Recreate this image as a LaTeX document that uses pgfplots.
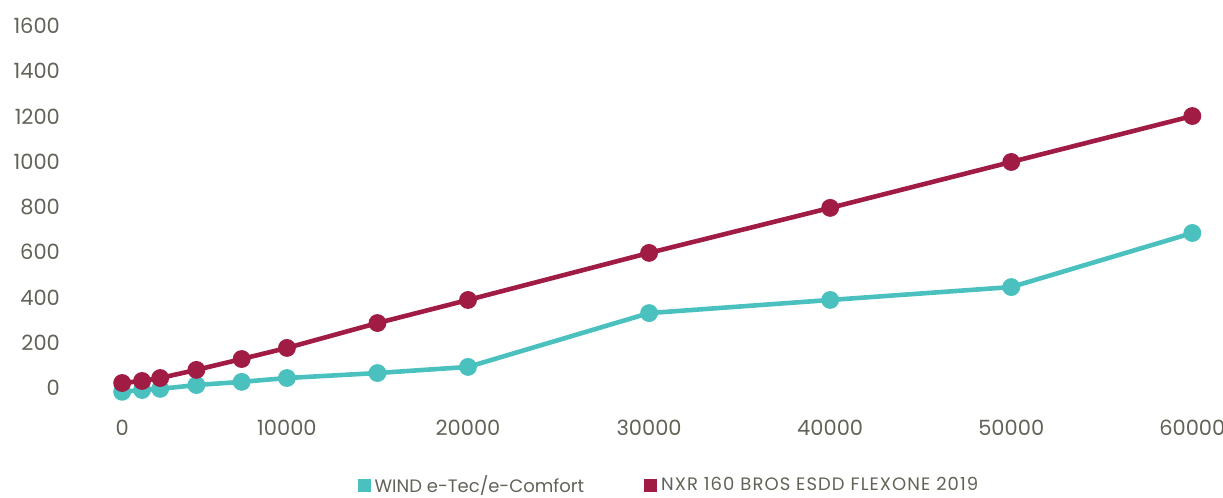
\documentclass[border=0pt]{standalone}
\usepackage{fontspec}
\setmainfont{Poppins}
\usepackage{pgfplots}
\pgfplotsset{compat=1.18}
\definecolor{teal1}{RGB}{74,193,191}
\definecolor{wine}{RGB}{160,28,68}
\definecolor{txt}{RGB}{98,98,88}
\begin{document}
\begin{tikzpicture}
\begin{axis}[
  scale only axis,
  width=555pt, height=192.3pt,
  at={(0,0)}, anchor=south west,
  xmin=-600, xmax=60700,
  ymin=-100, ymax=1600,
  axis line style={draw=none},
  tick style={draw=none},
  xtick={900,10000,20000,30000,40000,50000,60000},
  xticklabels={0,10000,20000,30000,40000,50000,60000},
  ytick={0,200,400,600,800,1000,1200,1400,1600},
  /pgf/number format/assume math mode=true,
  /pgf/number format/1000 sep={},
  scaled x ticks=false,
  xticklabel style={font=\fontsize{10.5}{12}\selectfont, text=txt, yshift=-1pt},
  yticklabel style={font=\fontsize{10.5}{12}\selectfont, text=txt, xshift=-14pt},
  legend style={at={(0.518,-0.194)}, anchor=center, draw=none, fill=none,
    font=\fontsize{9}{11}\selectfont, text=txt,
    legend columns=2, /tikz/every even column/.append style={column sep=28pt}},
  legend image code/.code={\fill (0pt,-2.1pt) rectangle (4.2pt,2.1pt);},
  clip=false,
]
\addplot[teal1, line width=2.3pt, mark=*, mark size=3.3pt, mark options={fill=teal1, draw=teal1}] coordinates {
 (900,-17) (2000,-9) (3000,-4) (5000,13) (7500,27) (10000,44) (15000,66) (20000,93)
 (30000,331) (40000,389) (50000,446) (60000,685)};
\addlegendentry{WIND e-Tec/e-Comfort}
\addplot[wine, line width=2.3pt, mark=*, mark size=3.3pt, mark options={fill=wine, draw=wine}] coordinates {
 (900,22) (2000,31) (3000,44) (5000,80) (7500,128) (10000,177) (15000,287) (20000,389)
 (30000,597) (40000,796) (50000,999) (60000,1202)};
\addlegendentry{\addfontfeature{LetterSpace=6}NXR 160 BROS ESDD FLEXONE 2019}
\end{axis}
\pgfresetboundingbox
\path[use as bounding box] (-47.5pt,-43.7pt) rectangle (564pt,205.3pt);
\end{tikzpicture}
\end{document}
